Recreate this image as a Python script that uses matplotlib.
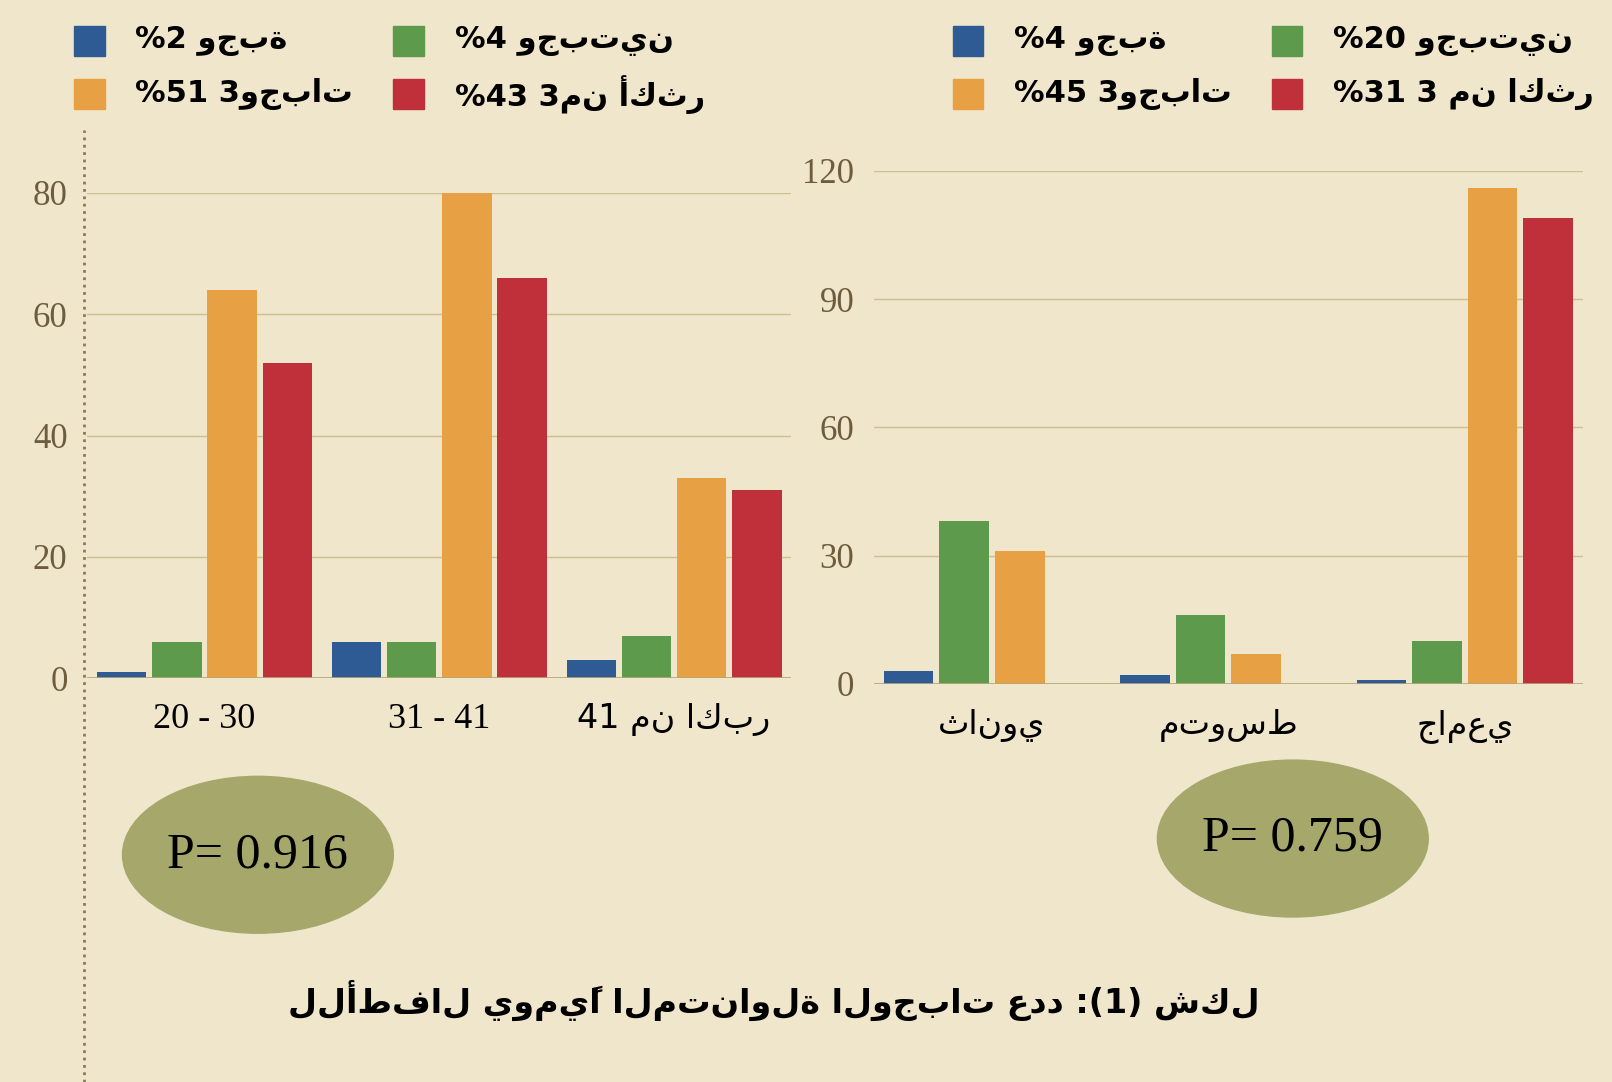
import matplotlib
matplotlib.use("Agg")
import matplotlib.pyplot as plt
import numpy as np
from matplotlib.patches import Ellipse, Rectangle

# Arabic strings are stored in visual (left-to-right display) order
left_cats = ["20 - 30", "31 - 41", "41 من اكبر"]
left_one = [1, 6, 3]
left_two = [6, 6, 7]
left_three = [64, 80, 33]
left_more = [52, 66, 31]

right_cats = ["ثانوي", "متوسط", "جامعي"]
right_one = [3, 2, 1]
right_two = [38, 16, 10]
right_three = [31, 7, 116]
right_more = [0, 0, 109]

left_legend = ["%2 وجبة", "%4 وجبتين", "%51 3وجبات", "%43 3من أكثر"]
right_legend = ["%4 وجبة", "%20 وجبتين", "%45 3وجبات", "%31 3 من اكثر"]
title = "للأطفال يوميًا المتناولة الوجبات عدد :(1) شكل"
colors = ["#2e5b94", "#5e9a4c", "#e8a045", "#c0303a"]
bg = "#efe6cb"
tickc = "#6e5c3e"

fig = plt.figure(figsize=(16.12, 10.82), dpi=100)
fig.patch.set_facecolor(bg)

def draw(ax, cats, series, ymax, yticks):
    x = np.arange(len(cats))
    w = 0.21
    offs = [-1.5, -0.5, 0.5, 1.5]
    for s, c, o in zip(series, colors, offs):
        ax.bar(x + o * 0.235, s, w, color=c, zorder=3)
    ax.set_facecolor(bg)
    ax.set_ylim(0, ymax)
    ax.set_xlim(-0.5, len(cats) - 0.5)
    ax.set_yticks(yticks)
    ax.yaxis.grid(True, color="#cdbf92", lw=1, zorder=0)
    for sp in ax.spines.values():
        sp.set_visible(False)
    ax.axhline(0, color="#b5a678", lw=1.2, zorder=4)
    ax.tick_params(axis="y", length=0, labelsize=25, colors=tickc, pad=14)
    ax.tick_params(axis="x", length=0, labelsize=24, colors="black", pad=18)
    ax.set_xticks(x)
    ax.set_xticklabels(cats)
    for t in ax.get_yticklabels():
        t.set_fontfamily("Liberation Serif")

axL = fig.add_axes([0.054, 0.373, 0.437, 0.449])
draw(axL, left_cats, [left_one, left_two, left_three, left_more], 80, [0, 20, 40, 60, 80])
axR = fig.add_axes([0.542, 0.368, 0.44, 0.474])
draw(axR, right_cats, [right_one, right_two, right_three, right_more], 120, [0, 30, 60, 90, 120])
for t in axL.get_xticklabels()[:2]:
    t.set_fontfamily("Liberation Serif")
    t.set_fontsize(26)

fig.add_artist(plt.Line2D([0.052, 0.052], [0.0, 0.88], color="#8a7a55", ls=":", lw=2))

def legend(x0, labels):
    pos = [(x0, 0.962), (x0 + 0.198, 0.962), (x0, 0.913), (x0 + 0.198, 0.913)]
    for (px, py), lab, c in zip(pos, labels, colors):
        fig.add_artist(Rectangle((px, py - 0.014), 0.019, 0.028, color=c, transform=fig.transFigure))
        fig.text(px + 0.038, py, lab, fontsize=22, fontweight="bold", va="center", ha="left")

legend(0.046, left_legend)
legend(0.591, right_legend)

for cx, cy, txt in [(0.16, 0.21, "P= 0.916"), (0.802, 0.225, "P= 0.759")]:
    fig.add_artist(Ellipse((cx, cy), 0.168, 0.145, color="#a5a86a", transform=fig.transFigure))
    fig.text(cx, cy, txt, fontsize=36, family="Liberation Serif", ha="center", va="center")

fig.text(0.48, 0.075, title, fontsize=24, fontweight="bold", ha="center", va="center")

fig.savefig("out.png", dpi=100, facecolor=bg)
